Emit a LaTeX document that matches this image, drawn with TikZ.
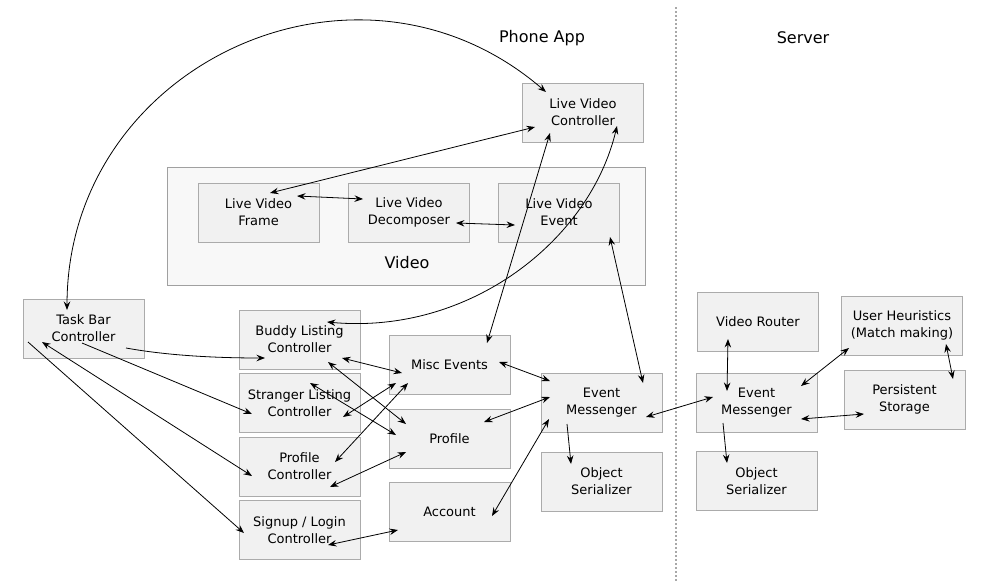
\documentclass[tikz,border=0pt]{standalone}
\usepackage{fontspec}
\setmainfont{DejaVu Sans}
\usetikzlibrary{arrows.meta,calc}
\definecolor{boxfill}{HTML}{F1F1F1}
\definecolor{boxline}{HTML}{ABABAB}
\definecolor{groupfill}{HTML}{F8F8F8}
\definecolor{groupline}{HTML}{A0A0A0}
\definecolor{divider}{HTML}{A8A8A8}

\begin{document}
\begin{tikzpicture}[x=1pt,y=-1pt,
        box/.style={draw=boxline,fill=boxfill,line width=1pt,minimum width=121pt,minimum height=59pt,
            inner sep=0pt,align=center,font=\fontsize{13}{16.8}\selectfont},
        group/.style={draw=groupline,fill=groupfill,line width=1pt,minimum width=478pt,minimum height=118pt},
        title/.style={font=\fontsize{16}{19}\selectfont},
        link/.style={line width=0.8pt,>={Stealth[length=8.5pt,width=6.5pt,inset=3pt]}},
        both/.style={link,<->},
        one/.style={link,->}]
    \useasboundingbox (0,0) rectangle (1001,581);

    % headings and divider
    \node[title] (phone) at (542,38) {Phone App};
    \node[title] (server) at (803,38) {Server};
    \draw[divider,line width=2pt,dash pattern=on 2pt off 2pt] (676,7) -- (676,581);

    % video group
    \node[group] (video) at (406,226) {};
    \node[title] (videolbl) at (407,263) {Video};
    \node[box] (frame) at (258.5,212.5) {Live Video\\Frame};
    \node[box] (decomp) at (409,212.5) {Live Video\\Decomposer};
    \node[box] (lve) at (559,212.5) {Live Video\\Event};
    \node[box] (lvc) at (583,112.5) {Live Video\\Controller};

    % phone side
    \node[box] (tb) at (83.5,328.5) {Task Bar\\Controller};
    \node[box] (buddy) at (299.5,339.5) {Buddy Listing\\Controller};
    \node[box] (stranger) at (299.5,403) {Stranger Listing\\Controller};
    \node[box] (profc) at (299.5,466.5) {Profile\\Controller};
    \node[box] (signup) at (299.5,530) {Signup / Login\\Controller};
    \node[box] (misc) at (449.5,364.5) {Misc Events};
    \node[box] (profile) at (449.5,438.5) {Profile};
    \node[box] (account) at (449.5,511.5) {Account};
    \node[box] (em) at (601.5,402.5) {Event\\Messenger};
    \node[box] (os) at (601.5,481.5) {Object\\Serializer};

    % server side
    \node[box] (router) at (758,322) {Video Router};
    \node[box] (sem) at (756.5,402.5) {Event\\Messenger};
    \node[box] (sos) at (756.5,481) {Object\\Serializer};
    \node[box] (heur) at (902,325.5) {User Heuristics\\(Match making)};
    \node[box] (store) at (904.5,399.5) {Persistent\\Storage};

    % video links
    \draw[both] ($(tb)+(-16.5,-18.5)$) .. controls +(0,-246) and +(-188,-162) .. ($(lvc)+(-37,-20.5)$);
    \draw[both] ($(lvc)+(-48,14.5)$) -- ($(frame)+(11.5,-19.5)$);
    \draw[both] ($(frame)+(38.5,-16.5)$) -- ($(decomp)+(-46,-13.5)$);
    \draw[both] ($(decomp)+(47,10.5)$) -- ($(lve)+(-44,12.5)$);
    \draw[both] ($(lvc)+(-33,20.5)$) -- ($(misc)+(37.5,-21.5)$);
    \draw[both] ($(buddy)+(27.5,-17.5)$) .. controls +(143,13) and +(-27,114) .. ($(lvc)+(34,13.5)$);
    \draw[both] ($(lve)+(51,24.5)$) -- ($(em)+(41.5,-19.5)$);

    % task bar links
    \draw[one] ($(tb)+(42.5,19.5)$) .. controls +(44,8) and +(-45,0) .. ($(buddy)+(-34.5,18.5)$);
    \draw[one] ($(tb)+(-1.5,14.5)$) -- ($(stranger)+(-47.5,11)$);
    \draw[both] ($(tb)+(-41.5,13.5)$) -- ($(profc)+(-47.5,9.5)$);
    \draw[one] ($(tb)+(-55.5,13.5)$) -- ($(signup)+(-55.5,3)$);

    % controllers to models
    \draw[both] ($(buddy)+(42.5,18.5)$) -- ($(misc)+(-47.5,8.5)$);
    \draw[both] ($(buddy)+(28.5,22.5)$) -- ($(profile)+(-43.5,-14.5)$);
    \draw[both] ($(stranger)+(10.5,-20)$) -- ($(profile)+(-53.5,-3.5)$);
    \draw[both] ($(stranger)+(43.5,14)$) -- ($(misc)+(-53.5,18.5)$);
    \draw[both] ($(profc)+(35.5,-4.5)$) -- ($(misc)+(-41.5,18.5)$);
    \draw[both] ($(profc)+(30.5,20.5)$) -- ($(profile)+(-43.5,13.5)$);
    \draw[both] ($(signup)+(28.5,15)$) -- ($(account)+(-51.5,18.5)$);

    % models to messenger
    \draw[both] ($(misc)+(49.5,-2.5)$) -- ($(em)+(-51.5,-21.5)$);
    \draw[both] ($(profile)+(34.5,-16.5)$) -- ($(em)+(-51.5,-5.5)$);
    \draw[both] ($(account)+(42.5,4.5)$) -- ($(em)+(-52.5,16.5)$);
    \draw[one] ($(em)+(-34.5,21.5)$) -- ($(os)+(-30.5,-17.5)$);

    % server links
    \draw[both] ($(em)+(44.5,14.5)$) -- ($(sem)+(-43.5,-5.5)$);
    \draw[both] ($(router)+(-30,17)$) -- ($(sem)+(-29.5,-11.5)$);
    \draw[both] ($(sem)+(44.5,-16.5)$) -- ($(heur)+(-53,22.5)$);
    \draw[both] ($(sem)+(44.5,16.5)$) -- ($(store)+(-40.5,14.5)$);
    \draw[both] ($(heur)+(44,18.5)$) -- ($(store)+(48.5,-20.5)$);
    \draw[one] ($(sem)+(-33.5,20.5)$) -- ($(sos)+(-29.5,-18)$);
\end{tikzpicture}
\end{document}
